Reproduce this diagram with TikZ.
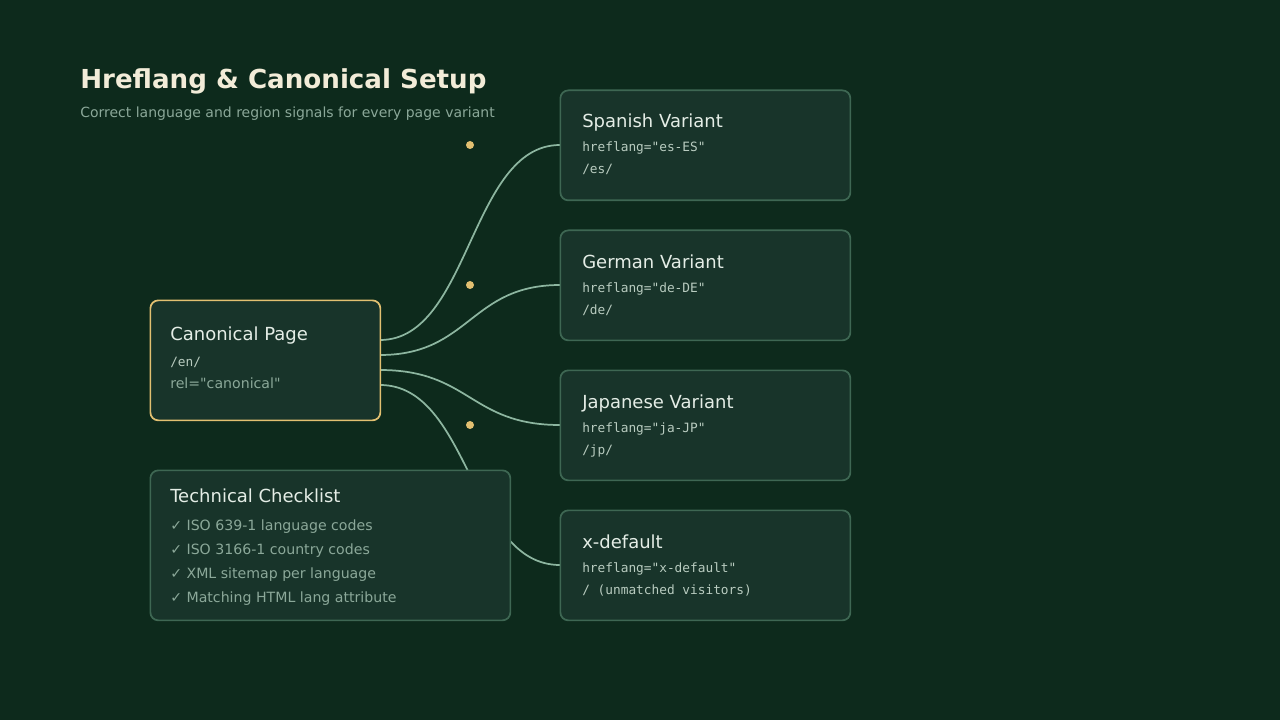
\documentclass[tikz,border=0pt]{standalone}
\usepackage{fontspec}
\setmainfont{DejaVu Sans}[Ligatures=TeXReset]
\setmonofont{DejaVu Sans Mono}[Ligatures=TeXReset]
\usetikzlibrary{calc}
\definecolor{bg}{HTML}{0D2A1C}
\definecolor{boxf}{HTML}{18342A}
\definecolor{boxb}{HTML}{3E6753}
\definecolor{gold}{HTML}{E2C071}
\definecolor{ttl}{HTML}{F2ECD8}
\definecolor{sub}{HTML}{8BA899}
\definecolor{txt}{HTML}{E4EDE6}
\definecolor{mono}{HTML}{B9CCC0}
\definecolor{wire}{HTML}{8DB6A0}
\begin{document}
\begin{tikzpicture}[x=0.75pt,y=-0.75pt,
  box/.style={draw=boxb,fill=boxf,line width=1.3pt,rounded corners=6pt,inner sep=0,anchor=north west},
  hd/.style={anchor=base west,inner sep=0,text=txt,font=\fontsize{13.5pt}{16pt}\selectfont},
  mn/.style={anchor=base west,inner sep=0,text=mono,font=\ttfamily\fontsize{9.6pt}{12pt}\selectfont},
  ck/.style={anchor=base west,inner sep=0,text=sub,font=\fontsize{10.6pt}{13pt}\selectfont},
  wire/.style={draw=wire,line width=1.3pt},
  dot/.style={circle,fill=gold,inner sep=0,minimum size=6pt}]
\fill[bg] (0,0) rectangle (1280,720);
\useasboundingbox (0,0) rectangle (1280,720);
\node[anchor=base west,inner sep=0,text=ttl,font=\bfseries\fontsize{19.6pt}{24pt}\selectfont] (title) at (80,89) {Hreflang \& Canonical Setup};
\node[anchor=base west,inner sep=0,text=sub,font=\fontsize{10.5pt}{13pt}\selectfont] (subtitle) at (80,118) {Correct language and region signals for every page variant};
\coordinate (es) at (560,145);
\coordinate (de) at (560,285);
\coordinate (ja) at (560,425);
\coordinate (xd) at (560,565);
\coordinate (c1) at (380,340);
\coordinate (c2) at (380,355);
\coordinate (c3) at (380,370);
\coordinate (c4) at (380,385);
\draw[wire] (c1) .. controls (470,340) and (470,145) .. (es);
\draw[wire] (c2) .. controls (470,355) and (470,285) .. (de);
\draw[wire] (c3) .. controls (470,370) and (470,425) .. (ja);
\draw[wire] (c4) .. controls (470,385) and (470,565) .. (xd);
\node[dot] (d1) at (470,145) {};
\node[dot] (d2) at (470,285) {};
\node[dot] (d3) at (470,425) {};
% canonical
\node[box,draw=gold,minimum width=230*0.75pt,minimum height=120*0.75pt] (can) at (149.5,299.5) {};
\node[hd] (cant) at (170,340) {Canonical Page};
\node[mn] (canm) at (170,366) {/en/};
\node[ck] (canr) at (170,388) {rel="canonical"};
% checklist
\node[box,minimum width=360*0.75pt,minimum height=150*0.75pt] (chk) at (149.5,469.5) {};
\node[hd] (chkt) at (170,502) {Technical Checklist};
\node[ck] (k1) at (170,530) {✓ ISO 639-1 language codes};
\node[ck] (k2) at (170,554) {✓ ISO 3166-1 country codes};
\node[ck] (k3) at (170,578) {✓ XML sitemap per language};
\node[ck] (k4) at (170,602) {✓ Matching HTML lang attribute};
% variants
\node[box,minimum width=290*0.75pt,minimum height=110*0.75pt] (vs) at (559.5,89.5) {};
\node[hd] (vst) at (582,128) {Spanish Variant};
\node[mn] (vsa) at (582,152) {hreflang="es-ES"};
\node[mn] (vsb) at (582,174) {/es/};
\node[box,minimum width=290*0.75pt,minimum height=110*0.75pt] (vd) at (559.5,229.5) {};
\node[hd] (vdt) at (582,268) {German Variant};
\node[mn] (vda) at (582,292) {hreflang="de-DE"};
\node[mn] (vdb) at (582,314) {/de/};
\node[box,minimum width=290*0.75pt,minimum height=110*0.75pt] (vj) at (559.5,369.5) {};
\node[hd] (vjt) at (582,408) {Japanese Variant};
\node[mn] (vja) at (582,432) {hreflang="ja-JP"};
\node[mn] (vjb) at (582,454) {/jp/};
\node[box,minimum width=290*0.75pt,minimum height=110*0.75pt] (vx) at (559.5,509.5) {};
\node[hd] (vxt) at (582,548) {x-default};
\node[mn] (vxa) at (582,572) {hreflang="x-default"};
\node[mn] (vxb) at (582,594) {/ (unmatched visitors)};
\end{tikzpicture}
\end{document}
